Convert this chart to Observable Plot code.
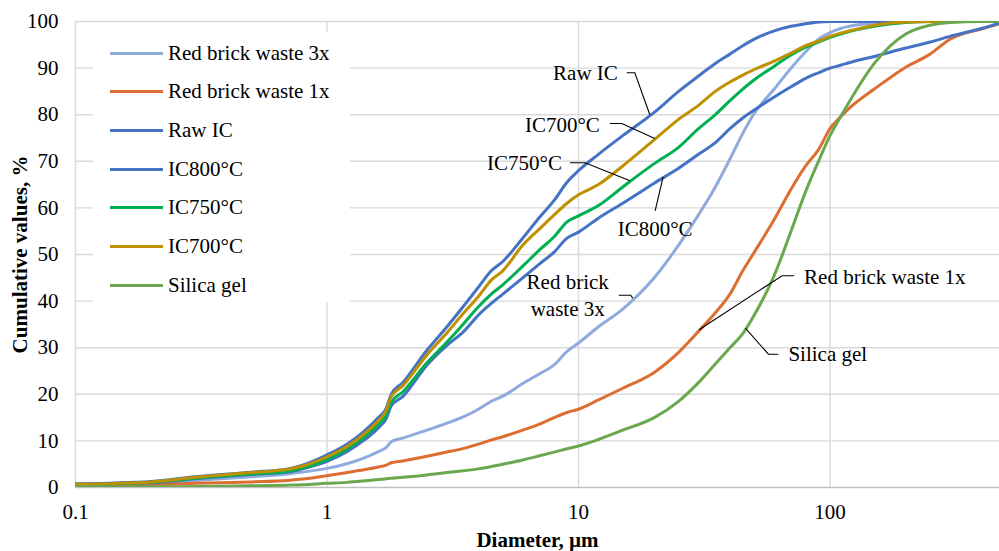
<!DOCTYPE html>
<html>
<head>
<meta charset="utf-8">
<script src="https://cdn.jsdelivr.net/npm/d3@7"></script>
<script src="https://cdn.jsdelivr.net/npm/@observablehq/plot@0.6"></script>
<style>
  body { margin: 0; background: #fff; }
  #chart { position: relative; width: 999px; height: 551px; font-family: "Liberation Serif", Tinos, "Times New Roman", "DejaVu Serif", serif; }
  #legend { position: absolute; left: 93px; top: 32px; width: 257px; height: 270px; background: #fff; }
  .item { position: absolute; left: 0; height: 24px; display: flex; align-items: center; font-size: 21px; color: #000; white-space: nowrap; }
  .swatch { width: 53px; height: 3px; margin-left: 17px; margin-right: 5px; }
  svg text { font-family: "Liberation Serif", Tinos, "Times New Roman", "DejaVu Serif", serif; }
</style>
</head>
<body>
<div id="chart"><div id="legend"></div></div>
<script>
// Particle size distribution: cumulative volume (%) against diameter (µm)
const diameters = [0.1, 0.2, 0.3, 0.5, 0.7, 0.8, 1, 1.2, 1.4, 1.6, 1.72, 1.8, 2, 2.5, 3, 3.5, 4, 4.5, 5, 6, 7, 8, 9, 10, 12, 15, 20, 25, 30, 35, 40, 45, 50, 60, 70, 80, 90, 100, 110, 120, 150, 200, 250, 300, 400, 472];

const redBrick3x = [0.4, 0.9, 1.5, 2.3, 2.9, 3.3, 4.1, 5.1, 6.3, 7.7, 8.6, 9.8, 10.6, 12.3, 13.8, 15.2, 16.8, 18.5, 19.6, 22.3, 24.4, 26.3, 29.2, 31, 34.5, 38.3, 45, 52, 58.5, 64.5, 70.5, 76, 80.3, 85.5, 90, 93.5, 96.2, 97.6, 98.5, 99, 99.7, 100, 100, 100, 100, 100];
const redBrick1x = [0.4, 0.6, 0.9, 1.2, 1.5, 1.8, 2.5, 3.2, 3.8, 4.4, 4.8, 5.3, 5.7, 6.7, 7.6, 8.4, 9.3, 10.2, 10.9, 12.3, 13.6, 15, 16.1, 16.8, 18.8, 21.3, 24.7, 29, 33.5, 37.5, 41.5, 46.5, 50.5, 57.5, 64, 69, 72.5, 77, 79.5, 81.5, 85.5, 90.2, 93, 96.2, 98.4, 99.5];
const rawIC = [0.8, 1.3, 2.3, 3.3, 4.0, 4.8, 7.0, 9.3, 12.0, 15.0, 17.0, 20.0, 22.5, 29.5, 34.5, 39, 43, 46.5, 48.5, 53.5, 58, 61.6, 65.5, 68, 71.5, 75.5, 80.5, 85, 88.3, 91, 93, 94.8, 96.2, 98, 99, 99.5, 99.9, 100, 100, 100, 100, 100, 100, 100, 100, 100];
const ic800 = [0.6, 1.0, 1.9, 2.8, 3.3, 4.0, 5.6, 7.7, 10.1, 12.8, 14.8, 17.5, 19.5, 26.3, 30.5, 33.5, 37, 39.5, 41.5, 45, 48, 50.5, 53.5, 54.8, 57.8, 61, 65.3, 68.5, 71.5, 74, 77, 79.3, 81, 83.8, 86, 87.8, 89, 90, 90.6, 91.2, 92.5, 94.3, 95.6, 96.8, 98.5, 99.6];
const ic750 = [0.6, 1.1, 2.0, 2.9, 3.5, 4.2, 6.0, 8.2, 10.7, 13.5, 15.5, 18.3, 20.5, 26.8, 31.2, 35.2, 38.8, 41.5, 43.5, 47.5, 51, 53.8, 57, 58.3, 60.5, 64.5, 69.5, 73, 77, 80, 83, 85.5, 87.5, 90.4, 92.8, 94.5, 95.6, 96.6, 97.3, 97.9, 99, 99.8, 100, 100, 100, 100];
const ic700 = [0.7, 1.2, 2.2, 3.2, 3.9, 4.6, 6.6, 8.8, 11.4, 14.4, 16.5, 19.5, 21.8, 28.5, 33.2, 37.5, 41, 44.5, 46.5, 52, 55.5, 58.5, 61, 62.8, 65, 69, 74.6, 79, 82, 85, 87, 88.5, 89.7, 91.5, 93.2, 94.8, 95.8, 96.8, 97.5, 98, 99.2, 99.9, 100, 100, 100, 100];
const silicaGel = [0.1, 0.15, 0.2, 0.35, 0.5, 0.6, 0.9, 1.1, 1.4, 1.7, 1.9, 2.0, 2.2, 2.7, 3.2, 3.6, 4.0, 4.5, 5.0, 5.9, 6.8, 7.6, 8.3, 8.9, 10.3, 12.3, 15, 18.5, 22.5, 26.5, 30, 33, 37, 45.5, 55, 63.5, 70, 75.5, 79.5, 83, 91, 97.3, 99.2, 99.8, 100, 100];

const seriesNames = ["Red brick waste 3x", "Red brick waste 1x", "Raw IC", "IC800°C", "IC750°C", "IC700°C", "Silica gel"];
const seriesValues = [redBrick3x, redBrick1x, rawIC, ic800, ic750, ic700, silicaGel];
const seriesColors = ["#8faadc", "#dc6e32", "#4472c4", "#4472c4", "#00b050", "#bf9000", "#6aa84f"];

const xTicks = [0.1, 1, 10, 100];
const yTicks = [0, 10, 20, 30, 40, 50, 60, 70, 80, 90, 100];
const xDomain = [0.1, 472];

const serif = "'Liberation Serif', Tinos, 'Times New Roman', 'DejaVu Serif', serif";

// Long table: one row per series and diameter
const rows = seriesNames.flatMap((name, i) =>
  diameters.map((d, j) => ({name, d, v: seriesValues[i][j]}))
);

// Value of a series at a diameter, interpolated in log space
function valueAt(name, d) {
  const vals = seriesValues[seriesNames.indexOf(name)];
  const j = Math.max(1, d3.bisectLeft(diameters, d));
  const t = (Math.log(d) - Math.log(diameters[j - 1])) / (Math.log(diameters[j]) - Math.log(diameters[j - 1]));
  return vals[j - 1] + t * (vals[j] - vals[j - 1]);
}

// Leader-line labels: anchored on a curve, elbow and text offsets in pixels
const callouts = [
  {series: "Raw IC", at: 19.3, lines: ["Raw IC"], path: [[-15, -42], [-23, -42]], tx: -32, ty: -41, anchor: "end"},
  {series: "IC700°C", at: 20.2, lines: ["IC700°C"], path: [[-33, -15], [-45, -15]], tx: -55, ty: -13, anchor: "end"},
  {series: "IC750°C", at: 16.1, lines: ["IC750°C"], path: [[-45, -18], [-60, -18]], tx: -68, ty: -17, anchor: "end"},
  {series: "IC800°C", at: 21.8, lines: ["IC800°C"], path: [[-8, 34]], tx: -8, ty: 52, anchor: "middle"},
  {series: "Red brick waste 3x", at: 16.5, lines: ["Red brick", "waste 3x"], path: [[-2, -3], [-14, -3]], tx: -65, ty: -2, anchor: "middle"},
  {series: "Red brick waste 1x", at: 30.3, lines: ["Red brick waste 1x"], path: [[83, -54], [95, -54]], tx: 105, ty: -52, anchor: "start"},
  {series: "Silica gel", at: 46.3, lines: ["Silica gel"], path: [[23, 26], [33, 26]], tx: 43, ty: 26, anchor: "start"}
];

function calloutLayer(index, scales, values, dimensions) {
  const {width, height, marginLeft, marginRight, marginTop, marginBottom} = dimensions;
  const sx = typeof scales.x === "function" ? scales.x : d3.scaleLog(xDomain, [marginLeft, width - marginRight]);
  const sy = typeof scales.y === "function" ? scales.y : d3.scaleLinear([0, 100], [height - marginBottom, marginTop]);
  const g = d3.create("svg:g");
  for (const c of callouts) {
    const px = sx(c.at), py = sy(valueAt(c.series, c.at));
    const pts = [[px, py], ...c.path.map(([dx, dy]) => [px + dx, py + dy])];
    g.append("path")
      .attr("d", d3.line()(pts))
      .attr("fill", "none")
      .attr("stroke", "#000")
      .attr("stroke-width", 1.1);
    const lh = 27;
    c.lines.forEach((t, k) => {
      g.append("text")
        .attr("x", px + c.tx)
        .attr("y", py + c.ty + (k - (c.lines.length - 1) / 2) * lh)
        .attr("dy", "0.32em")
        .attr("text-anchor", c.anchor)
        .attr("fill", "#000")
        .text(t);
    });
  }
  return g.node();
}

const chart = Plot.plot({
  width: 999,
  height: 551,
  marginLeft: 75,
  marginRight: 0,
  marginTop: 21,
  marginBottom: 64,
  style: {fontFamily: serif, fontSize: "21px", color: "#000", background: "#fff", overflow: "visible"},
  x: {type: "log", domain: xDomain, ticks: xTicks, tickFormat: d => String(d), tickSize: 0, tickPadding: 17, label: null},
  y: {domain: [0, 100], ticks: yTicks, tickSize: 0, tickPadding: 17, label: null},
  color: {domain: seriesNames, range: seriesColors},
  marks: [
    Plot.ruleY(yTicks.filter(v => v > 0), {stroke: "#d9d9d9", strokeWidth: 1.4}),
    Plot.ruleX(xTicks, {stroke: "#d9d9d9", strokeWidth: 1.4}),
    Plot.ruleY([0], {stroke: "#bfbfbf", strokeWidth: 1.6}),
    Plot.line(rows, {x: "d", y: "v", z: "name", stroke: "name", strokeWidth: 3, curve: "monotone-x", clip: true}),
    calloutLayer,
    Plot.text(["Diameter, µm"], {frameAnchor: "bottom", textAnchor: "middle", lineAnchor: "middle", dy: 53, fontWeight: "bold", fill: "#000"}),
    Plot.text(["Cumulative values, %"], {frameAnchor: "left", textAnchor: "middle", lineAnchor: "middle", dx: -55, rotate: -90, fontWeight: "bold", fill: "#000"})
  ]
});

const root = document.getElementById("chart");
root.insertBefore(chart, root.firstChild);

// Legend drawn over the plot area, same colors as the lines
const legend = d3.select("#legend");
seriesNames.forEach((name, i) => {
  const item = legend.append("div").attr("class", "item").style("top", `${9 + i * 38.7}px`);
  item.append("div").attr("class", "swatch").style("background", seriesColors[i]);
  item.append("span").text(name);
});
</script>
</body>
</html>
